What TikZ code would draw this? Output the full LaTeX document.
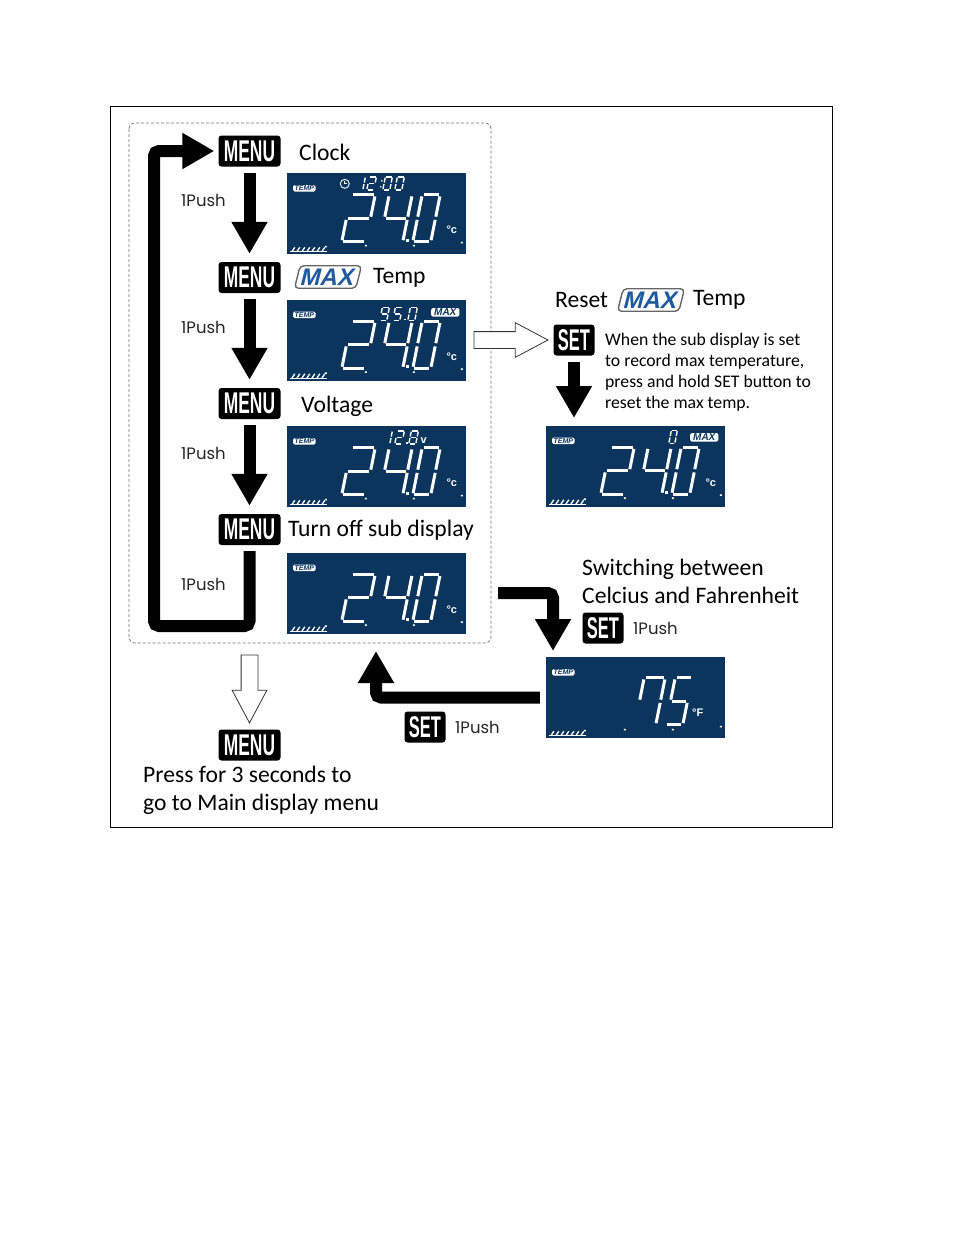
\documentclass[tikz,border=0pt]{standalone}
\usepackage{fontspec}
\setmainfont{Carlito}
\newfontfamily\pushfont{Poppins}
\newfontfamily\keyfont{Liberation Sans}
\usetikzlibrary{arrows.meta,shapes.arrows}
\definecolor{lcdblue}{HTML}{0C355E}
\definecolor{maxblue}{HTML}{1F5A9E}

\tikzset{
  key/.style={fill=black, rounded corners=3pt, text=white, inner sep=0pt,
    font=\keyfont\bfseries\fontsize{30}{30}\selectfont},
  menukey/.style={key, minimum width=62pt, minimum height=31pt},
  setkey/.style={key, minimum width=41pt, minimum height=31pt},
  lcd/.style={fill=lcdblue, minimum width=179pt, minimum height=81pt, inner sep=0pt},
  seg/.style={white, line cap=butt},
  tag/.style={fill=white, rounded corners=1.5pt, inner xsep=1.5pt, inner ysep=0.8pt,
    text=lcdblue, font=\keyfont\bfseries\itshape\fontsize{7}{7}\selectfont},
  maxtag/.style={tag, inner xsep=3pt, font=\keyfont\bfseries\itshape\fontsize{10}{10}\selectfont},
  flow/.style={line width=12pt, -{Triangle[width=34pt,length=32pt]}},
  hollow/.style={single arrow, draw=black!80, fill=white, line width=0.8pt,
    inner xsep=0pt, inner ysep=8pt, single arrow head extend=9pt,
    single arrow tip angle=56, single arrow head indent=0pt},
  lbl/.style={anchor=west, inner sep=0pt, font=\fontsize{23.6}{28}\selectfont},
  note/.style={anchor=west, inner sep=0pt, align=left, font=\fontsize{17.7}{21}\selectfont},
  push/.style={anchor=west, inner sep=0pt, text=black!85, font=\pushfont\fontsize{16.5}{16.5}\selectfont},
  maxlogo/.style={draw=black!60, line width=1.4pt, fill=white, rounded corners=4pt,
    xslant=0.25, transform shape, text=maxblue, inner xsep=4pt, inner ysep=3pt,
    font=\keyfont\bfseries\fontsize{24}{24}\selectfont}
}

\newcommand{\menutxt}{\scalebox{0.58}[1]{MENU}}
\newcommand{\settxt}{\scalebox{0.55}[1]{SET}}

% seven segment digits: corner pairs
\def\segzero{TL/TR,TR/MR,MR/BR,BL/BR,ML/BL,TL/ML}
\def\segone{TR/MR,MR/BR}
\def\segtwo{TL/TR,TR/MR,ML/MR,ML/BL,BL/BR}
\def\segfour{TL/ML,ML/MR,TR/MR,MR/BR}
\def\segfive{TL/TR,TL/ML,ML/MR,MR/BR,BL/BR}
\def\segseven{TL/TR,TR/MR,MR/BR,TL/ML}
\def\segeight{TL/TR,TR/MR,MR/BR,BL/BR,ML/BL,TL/ML,ML/MR}
\def\segnine{TL/TR,TR/MR,MR/BR,BL/BR,TL/ML,ML/MR}

% x, y (bottom left), width, height, line width, segments
\newcommand{\segd}[6]{%
  \begin{scope}[shift={(#1,#2)}, xslant=0.2]
    \coordinate (TL) at (0,-#4); \coordinate (TR) at (#3,-#4);
    \coordinate (ML) at (0,-#4/2); \coordinate (MR) at (#3,-#4/2);
    \coordinate (BL) at (0,0); \coordinate (BR) at (#3,0);
    \foreach \p/\q in #6 \draw[seg, line width=#5pt, shorten <={0.55*#5pt}, shorten >={0.55*#5pt}] (\p) -- (\q);
  \end{scope}}

% display: name, centre, contents (local pixels from north west)
\newcommand{\lcd}[3]{%
  \node[lcd] (#1) at (#2) {};
  \begin{scope}[shift={(#1.north west)}]
    \node[tag] at (17.5,15.5) {TEMP};
    \draw[white, line width=0.8pt] (3,79) -- (40,79);
    \foreach \i in {0,...,6} \draw[white, line width=1.3pt] (5+5*\i,79) -- (8+5*\i,74.5);
    \fill[white] (38,73) rectangle (40,74.5) (78,72) rectangle (80,73.5)
      (126,72) rectangle (128,73.5) (174,69) rectangle (176,70.5);
    #3
  \end{scope}}

\newcommand{\bigtemp}{%
  \segd{55}{69}{24}{47}{3}\segtwo
  \segd{93}{69}{23}{47}{3}\segfour
  \fill[white] (119.5,66) rectangle (122.5,69);
  \segd{126}{69}{18}{47}{3}\segzero
  \node[text=white, inner sep=0pt, font=\keyfont\bfseries\fontsize{11}{11}\selectfont] at (165,57) {°c};}

\begin{document}
\begin{tikzpicture}[x=1pt,y=-1pt]
\useasboundingbox (0,0) rectangle (954,1235);
\draw[line width=1pt] (110,106) rectangle (832,827);
\draw[black!55, line width=0.8pt, dash pattern=on 3pt off 2pt, rounded corners=6pt] (129,123) rectangle (491,643);

% menu keys and displays
\node[menukey] (m1) at (249.5,151) {\menutxt};
\node[lbl] (clock) at (299,152) {Clock};
\lcd{d1}{376.5,213.5}{\bigtemp
  \draw[white, line width=0.9pt] (58,11) circle (4.5pt);
  \draw[white, line width=0.9pt] (58,8) -- (58,11) -- (60.5,11);
  \segd{69}{17}{7}{13}{1.4}\segone
  \segd{80}{17}{7}{13}{1.4}\segtwo
  \fill[white] (95,8) circle (0.9pt) (94,14) circle (0.9pt);
  \segd{96}{17}{7}{13}{1.4}\segzero
  \segd{108}{17}{7}{13}{1.4}\segzero}

\node[menukey] (m2) at (249.5,277.5) {\menutxt};
\node[maxlogo] (max1) at (328,277) {MAX};
\node[lbl] (temp1) at (373,278) {Temp};
\lcd{d2}{376.5,340}{\bigtemp
  \segd{93}{21}{7}{13}{1.4}\segnine
  \segd{106}{21}{7}{13}{1.4}\segfive
  \fill[white] (117,19.5) rectangle (119,21);
  \segd{121}{21}{7}{13}{1.4}\segzero
  \node[maxtag] at (158.5,13) {MAX};}

\node[menukey] (m3) at (249.5,403.5) {\menutxt};
\node[lbl] (volt) at (301,406) {Voltage};
\lcd{d3}{376.5,466.5}{\bigtemp
  \segd{96}{18}{7}{13}{1.4}\segone
  \segd{108}{18}{7}{13}{1.4}\segtwo
  \fill[white] (119,16.5) rectangle (121,18);
  \segd{122}{18}{7}{13}{1.4}\segeight
  \node[text=white, inner sep=0pt, font=\keyfont\bfseries\fontsize{11}{11}\selectfont] at (137,15) {v};}

\node[menukey] (m4) at (249.5,529.5) {\menutxt};
\node[lbl] (off) at (288,530) {Turn off sub display};
\lcd{d4}{376.5,593}{\bigtemp}

\node[push] at (181,200) {1Push};
\node[push] at (181,327) {1Push};
\node[push] at (181,453) {1Push};
\node[push] at (181,584) {1Push};

\draw[flow] ([yshift=-6pt]m1.south) -- ([yshift=8pt]m2.north);
\draw[flow] ([yshift=-6pt]m2.south) -- ([yshift=8pt]m3.north);
\draw[flow] ([yshift=-6pt]m3.south) -- ([yshift=8pt]m4.north);
\draw[flow, rounded corners=5pt] ([yshift=-6pt]m4.south) |- (154,626) |- ([xshift=-4pt]m1.west);

% reset max
\node[lbl] (reset) at (555,300) {Reset};
\node[maxlogo] (max2) at (651,300) {MAX};
\node[lbl] (temp2) at (693,300) {Temp};
\node[hollow, minimum height=74pt] (h1) at (503,340) {};
\node[setkey] (sR) at (574,340) {\settxt};
\node[note] (hold) at (605,372.5) {When the sub display is set\\to record max temperature,\\press and hold SET button to\\reset the max temp.};
\lcd{dR}{635.5,466}{\bigtemp
  \segd{123}{18}{6}{13}{1.4}\segzero
  \node[maxtag] at (158.5,12) {MAX};}
\coordinate (tipR) at (574,418);
\draw[flow] ([yshift=-6pt]sR.south) -- (tipR);

% celcius / fahrenheit
\node[lbl, align=left] (switch) at (582,581) {Switching between\\Celcius and Fahrenheit};
\node[setkey] (sF) at (603,628) {\settxt};
\node[push] at (633,628) {1Push};
\lcd{dF}{635.5,697.5}{%
  \segd{89}{68}{21}{47}{3}\segseven
  \segd{120}{68}{17}{47}{3}\segfive
  \node[text=white, inner sep=0pt, font=\keyfont\bfseries\fontsize{11}{11}\selectfont] at (152,56) {°F};}
\coordinate (tipF) at (553,651);
\draw[flow, rounded corners=5pt] ([xshift=32pt]d4.east) -| (tipF);
\coordinate (tipB) at (376,651);
\draw[flow, rounded corners=5pt] ([xshift=-6pt]dF.west) -| (tipB);
\node[setkey] (sB) at (425,727) {\settxt};
\node[push] at (455,727) {1Push};

% main menu
\node[hollow, minimum height=68pt, rotate=-90] (h2) at (249.5,681) {};
\node[menukey] (m5) at (249.5,745) {\menutxt};
\node[lbl, align=left] (press) at (143,790) {Press for 3 seconds to\\go to Main display menu};
\end{tikzpicture}
\end{document}
